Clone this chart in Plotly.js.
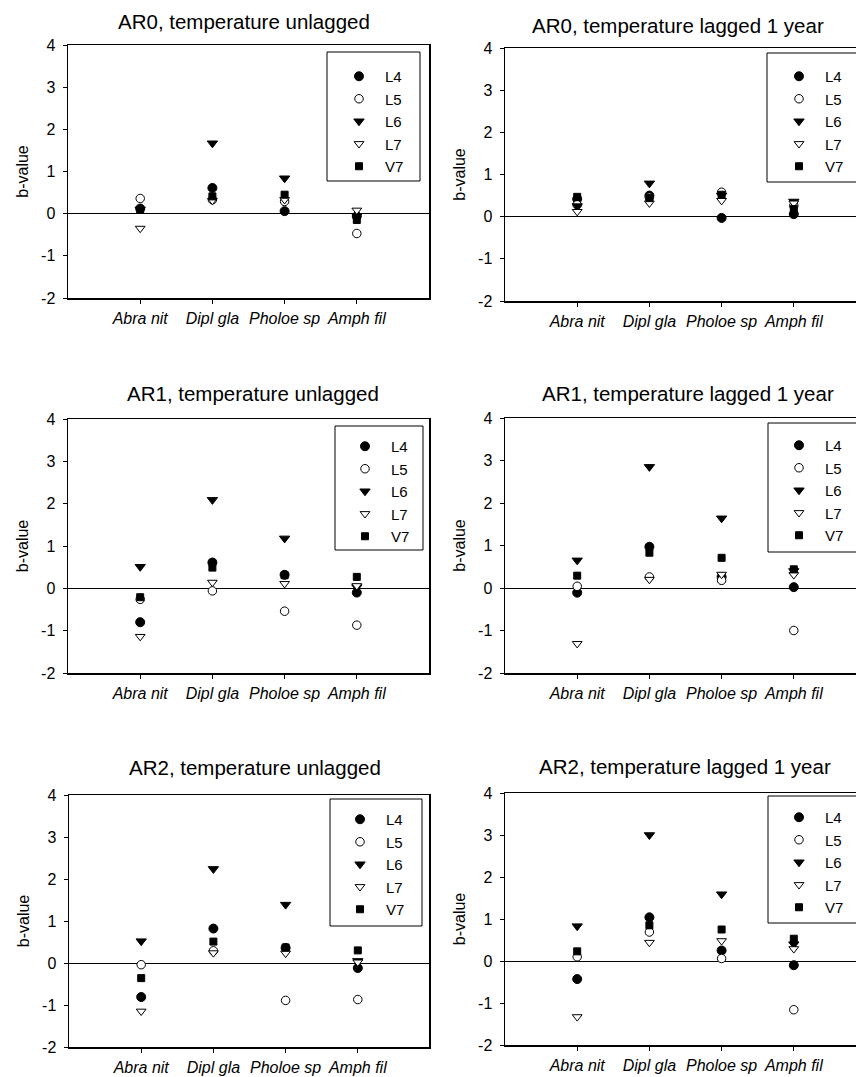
<!DOCTYPE html>
<html>
<head>
<meta charset="utf-8">
<script src="https://cdn.plot.ly/plotly-3.0.1.min.js"></script>
<style>
html,body{margin:0;padding:0;background:#fff;}
#chart{width:856px;height:1077px;}
</style>
</head>
<body>
<div id="chart"></div>
<script>
// ---------- data ----------
const categories = ["Abra nit", "Dipl gla", "Pholoe sp", "Amph fil"];
const seriesNames = ["L4", "L5", "L6", "L7", "V7"];
const panelTitles = [
  "AR0, temperature unlagged", "AR0, temperature lagged 1 year",
  "AR1, temperature unlagged", "AR1, temperature lagged 1 year",
  "AR2, temperature unlagged", "AR2, temperature lagged 1 year"
];
const yTickValues = [-2, -1, 0, 1, 2, 3, 4];
const yTickLabels = ["-2", "-1", "0", "1", "2", "3", "4"];

// AR0, unlagged
const ar0Unlagged_L4 = [0.12, 0.61, 0.06, -0.06];
const ar0Unlagged_L5 = [0.36, 0.33, 0.29, -0.47];
const ar0Unlagged_L6 = [0.10, 1.67, 0.84, -0.05];
const ar0Unlagged_L7 = [-0.35, 0.31, 0.33, 0.08];
const ar0Unlagged_V7 = [0.10, 0.41, 0.45, -0.15];
// AR0, lagged 1 year
const ar0Lagged_L4 = [0.42, 0.50, -0.03, 0.06];
const ar0Lagged_L5 = [0.28, 0.46, 0.58, 0.26];
const ar0Lagged_L6 = [0.25, 0.79, 0.50, 0.36];
const ar0Lagged_L7 = [0.12, 0.32, 0.38, 0.32];
const ar0Lagged_V7 = [0.47, 0.44, 0.52, 0.18];
// AR1, unlagged
const ar1Unlagged_L4 = [-0.80, 0.61, 0.32, -0.10];
const ar1Unlagged_L5 = [-0.26, -0.06, -0.54, -0.87];
const ar1Unlagged_L6 = [0.51, 2.09, 1.18, 0.03];
const ar1Unlagged_L7 = [-1.14, 0.14, 0.11, 0.06];
const ar1Unlagged_V7 = [-0.21, 0.49, 0.31, 0.27];
// AR1, lagged 1 year
const ar1Lagged_L4 = [-0.11, 0.97, 0.26, 0.02];
const ar1Lagged_L5 = [0.04, 0.26, 0.18, -1.00];
const ar1Lagged_L6 = [0.65, 2.85, 1.64, 0.40];
const ar1Lagged_L7 = [-1.31, 0.20, 0.32, 0.31];
const ar1Lagged_V7 = [0.29, 0.83, 0.71, 0.44];
// AR2, unlagged
const ar2Unlagged_L4 = [-0.81, 0.82, 0.36, -0.12];
const ar2Unlagged_L5 = [-0.04, 0.29, -0.89, -0.87];
const ar2Unlagged_L6 = [0.52, 2.24, 1.39, 0.05];
const ar2Unlagged_L7 = [-1.15, 0.24, 0.23, 0.02];
const ar2Unlagged_V7 = [-0.36, 0.51, 0.37, 0.30];
// AR2, lagged 1 year
const ar2Lagged_L4 = [-0.43, 1.04, 0.25, -0.10];
const ar2Lagged_L5 = [0.10, 0.69, 0.06, -1.16];
const ar2Lagged_L6 = [0.83, 3.00, 1.59, 0.40];
const ar2Lagged_L7 = [-1.33, 0.44, 0.48, 0.29];
const ar2Lagged_V7 = [0.23, 0.85, 0.75, 0.53];

const panelData = [
  [ar0Unlagged_L4, ar0Unlagged_L5, ar0Unlagged_L6, ar0Unlagged_L7, ar0Unlagged_V7],
  [ar0Lagged_L4, ar0Lagged_L5, ar0Lagged_L6, ar0Lagged_L7, ar0Lagged_V7],
  [ar1Unlagged_L4, ar1Unlagged_L5, ar1Unlagged_L6, ar1Unlagged_L7, ar1Unlagged_V7],
  [ar1Lagged_L4, ar1Lagged_L5, ar1Lagged_L6, ar1Lagged_L7, ar1Lagged_V7],
  [ar2Unlagged_L4, ar2Unlagged_L5, ar2Unlagged_L6, ar2Unlagged_L7, ar2Unlagged_V7],
  [ar2Lagged_L4, ar2Lagged_L5, ar2Lagged_L6, ar2Lagged_L7, ar2Lagged_V7]
];

// ---------- styling / layout ----------
const W = 856, H = 1077;
const fx = p => p / W;
const fy = p => 1 - p / H;
const FONT = "Liberation Sans, Arial, Helvetica, sans-serif";

const markerStyles = [
  {symbol: "circle", size: 9, color: "#000", line: {color: "#000", width: 1}},
  {symbol: "circle", size: 8.5, color: "#fff", line: {color: "#000", width: 1}},
  {symbol: "triangle-down", size: 9, color: "#000", line: {color: "#000", width: 1}},
  {symbol: "triangle-down", size: 8.5, color: "#fff", line: {color: "#000", width: 1}},
  {symbol: "square", size: 7, color: "#000", line: {color: "#000", width: 1}}
];

// pixel geometry of each panel: plot left/right/top/bottom, title centre, legend box, legend first marker
const geom = [
  {l: 68, r: 429, t: 45, b: 298, tx: 244, ty: 22, box: [327, 52, 420, 181], mk: [359, 77]},
  {l: 505, r: 856, t: 48, b: 301, tx: 678, ty: 25, box: [767, 53, 870, 182], mk: [799, 77]},
  {l: 68, r: 429, t: 419, b: 673, tx: 253, ty: 393, box: [335, 426, 423, 550], mk: [365, 447]},
  {l: 505, r: 856, t: 418, b: 673, tx: 688, ty: 394, box: [768, 423, 870, 552], mk: [799, 446]},
  {l: 69, r: 429, t: 795, b: 1047, tx: 255, ty: 767, box: [330, 799, 422, 926], mk: [360, 820]},
  {l: 505, r: 856, t: 793, b: 1045, tx: 685, ty: 766, box: [768, 796, 870, 923], mk: [799, 818]}
];
const pxPerCat = 361 / 5;

const traces = [];
const layout = {
  width: W, height: H,
  margin: {l: 0, r: 0, t: 0, b: 0, autoexpand: false},
  paper_bgcolor: "#fff", plot_bgcolor: "#fff",
  font: {family: FONT, color: "#000", size: 16},
  showlegend: true,
  annotations: [],
  shapes: []
};

panelData.forEach((series, i) => {
  const g = geom[i];
  const n = i + 1;
  const xa = n === 1 ? "x" : "x" + n;
  const ya = n === 1 ? "y" : "y" + n;
  const legendId = n === 1 ? "legend" : "legend" + n;
  const isRight = (i % 2) === 1;

  series.forEach((vals, s) => {
    traces.push({
      type: "scatter", mode: "markers",
      x: categories, y: vals,
      name: seriesNames[s],
      xaxis: xa, yaxis: ya,
      legend: legendId,
      marker: markerStyles[s],
      cliponaxis: false,
      hoverinfo: "x+y+name"
    });
  });

  const xRangeMax = -1 + (g.r - g.l) / pxPerCat;
  layout["xaxis" + (n === 1 ? "" : n)] = {
    domain: [fx(g.l), fx(g.r)],
    anchor: ya,
    type: "category",
    categoryarray: categories,
    range: [-1, xRangeMax],
    showgrid: false, zeroline: false,
    showline: true, linecolor: "#000", linewidth: 1.5, mirror: true,
    ticks: "outside", ticklen: 4, tickcolor: "#000", tickwidth: 1,
    ticklabelstandoff: 1,
    tickfont: {family: FONT, size: 16, style: "italic", color: "#000"},
    fixedrange: true
  };
  layout["yaxis" + (n === 1 ? "" : n)] = {
    domain: [fy(g.b), fy(g.t)],
    anchor: xa,
    range: [-2, 4],
    tickmode: "array",
    tickvals: yTickValues,
    ticktext: yTickLabels,
    showgrid: false,
    zeroline: true, zerolinecolor: "#000", zerolinewidth: 1,
    showline: true, linecolor: "#000", linewidth: 1.5, mirror: !isRight,
    ticks: "outside", ticklen: 4, tickcolor: "#000", tickwidth: 1,
    ticklabelstandoff: 4,
    tickfont: {family: FONT, size: 16, color: "#000"},
    title: {text: "b-value", font: {family: FONT, size: 16, color: "#000"}, standoff: 8},
    fixedrange: true
  };

  layout[legendId] = {
    x: fx(g.mk[0] - 26), xanchor: "left",
    y: fy(g.mk[1] - 17), yanchor: "top",
    bgcolor: "rgba(0,0,0,0)", borderwidth: 0,
    itemwidth: 42,
    font: {family: FONT, size: 15, color: "#000"},
    tracegroupgap: 0
  };

  layout.shapes.push({
    type: "rect", xref: "paper", yref: "paper",
    x0: fx(g.box[0]), x1: fx(g.box[2]),
    y0: fy(g.box[3]), y1: fy(g.box[1]),
    line: {color: "#000", width: 1}, fillcolor: "rgba(0,0,0,0)", layer: "above"
  });

  layout.annotations.push({
    text: panelTitles[i], xref: "paper", yref: "paper",
    x: fx(g.tx), y: fy(g.ty), xanchor: "center", yanchor: "middle",
    showarrow: false, font: {family: FONT, size: 20.5, color: "#000"}
  });
});

Plotly.newPlot("chart", traces, layout, {staticPlot: true, displayModeBar: false});
</script>
</body>
</html>
